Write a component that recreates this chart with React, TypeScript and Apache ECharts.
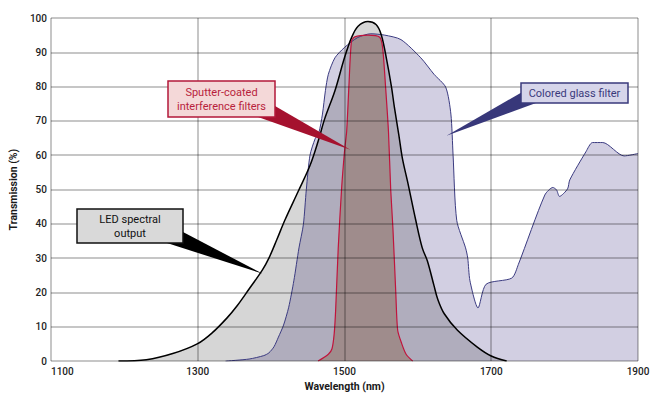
import React, { useEffect, useRef } from "react";
import * as echarts from "echarts";

// ---- Data ----
const xTickMin = 1100;
const xTickMax = 1900;
const xTickStep = 200;
const yTickMin = 0;
const yTickMax = 100;
const yTickStep = 10;

const glassWavelengths = [
  1338, 1370, 1390, 1397, 1404, 1410, 1417, 1424, 1431, 1438, 1444, 1448, 1453, 1460, 1465,
  1470, 1474, 1478, 1487, 1500, 1518, 1536, 1555, 1577, 1604, 1622, 1638, 1645, 1648, 1653,
  1665, 1668, 1671, 1682, 1693, 1728, 1737, 1773, 1784, 1789, 1793, 1804, 1807, 1829, 1838,
  1852, 1881, 1900,
];
const glassValues = [
  0, 0.6, 1.6, 2.4, 4.2, 7, 10.5, 15.7, 23.4, 33, 39.8, 50, 60, 64.8, 66.5,
  72, 78.8, 83.6, 88.4, 91.4, 94.3, 95.4, 95, 93.7, 88.4, 83.6, 79.8, 72, 60, 41,
  33, 30, 23.4, 15.5, 22.4, 24.2, 28.2, 48.4, 50.6, 49.9, 48, 50.2, 52.8, 61, 63.7,
  63.7, 59.8, 60.5,
];

const ledWavelengths = [
  1192, 1230, 1266, 1300, 1320, 1340, 1354, 1370, 1388, 1397, 1408, 1419, 1437, 1453, 1464,
  1473, 1487, 1500, 1509.5, 1518.5, 1532, 1543, 1550, 1557, 1564, 1568, 1574, 1579, 1586, 1597,
  1606, 1613, 1622, 1627, 1636, 1654, 1681, 1700, 1721,
];
const ledValues = [
  0, 0.4, 2.2, 5.1, 8.3, 12.6, 16.2, 21, 26.5, 30, 35.5, 41.2, 49.5, 57, 64,
  70.6, 78.8, 88.4, 94.2, 97.6, 99, 98.1, 95.2, 88.4, 80, 74, 66, 59, 52.3, 41.2,
  33, 29.2, 22, 18.1, 13.8, 9, 4.1, 1.5, 0,
];

const sputterWavelengths = [
  1464, 1478, 1483, 1486, 1488, 1491.5, 1496, 1500, 1503, 1506, 1509.5, 1514, 1532, 1548, 1552,
  1556, 1560, 1563, 1566, 1570, 1572.5, 1578, 1584, 1593,
];
const sputterValues = [
  0, 2, 3.6, 8, 15, 33, 50, 61, 67, 80, 93.2, 94.5, 95, 94.4, 91.3,
  80, 66.7, 50, 38.8, 19.5, 9, 5.1, 2, 0,
];

// Callout labels and the data point each one points at
const ledLabel = "LED spectral\noutput";
const ledTip = [1388, 25.5];
const sputterLabel = "Sputter-coated\ninterference filters";
const sputterTip = [1508, 61.6];
const glassLabel = "Colored glass filter";
const glassTip = [1639, 65.7];

const zip = (xs: number[], ys: number[]) => xs.map((x, i) => [x, ys[i]]);

const FONT = "Roboto, 'Noto Sans', sans-serif";

export default function App() {
  const ref = useRef<HTMLDivElement>(null);

  useEffect(() => {
    if (!ref.current) return;
    const chart = echarts.init(ref.current, undefined, { renderer: "svg" });

    const gridLine = { color: "rgba(0,0,0,0.3)", width: 1.5 };

    chart.setOption({
      animation: false,
      backgroundColor: "#ffffff",
      grid: { left: 47, right: 18, top: 18, bottom: 33 },
      xAxis: {
        type: "value",
        min: xTickMin,
        max: xTickMax,
        interval: xTickStep,
        z: 10,
        axisLine: { show: false },
        axisTick: { show: false },
        splitLine: { show: true, lineStyle: gridLine },
        axisLabel: {
          color: "#222222",
          fontSize: 10,
          fontWeight: 500,
          fontFamily: FONT,
          margin: 5,
          alignMinLabel: "left",
          formatter: (v: number) => String(v),
        },
        name: "Wavelength (nm)",
        nameLocation: "middle",
        nameGap: 15,
        nameTextStyle: { color: "#1a1a1a", fontSize: 10.5, fontWeight: "bold", fontFamily: FONT },
      },
      yAxis: {
        type: "value",
        min: yTickMin,
        max: yTickMax,
        interval: yTickStep,
        z: 10,
        axisLine: { show: false },
        axisTick: { show: false },
        splitLine: { show: true, lineStyle: gridLine },
        axisLabel: {
          color: "#222222",
          fontSize: 10,
          fontWeight: 500,
          fontFamily: FONT,
          margin: 4,
          formatter: (v: number) => String(v),
        },
        name: "Transmission (%)",
        nameLocation: "middle",
        nameGap: 26,
        nameTextStyle: { color: "#1a1a1a", fontSize: 10.5, fontWeight: "bold", fontFamily: FONT },
      },
      series: [
        {
          name: "Colored glass filter",
          type: "line",
          data: zip(glassWavelengths, glassValues),
          symbol: "none",
          smooth: 0.25,
          lineStyle: { color: "#3b3b80", width: 1 },
          areaStyle: { color: "#d2cfe2", opacity: 1 },
        },
        {
          name: "LED spectral output",
          type: "line",
          data: zip(ledWavelengths, ledValues),
          symbol: "none",
          smooth: 0.35,
          lineStyle: { color: "#000000", width: 1.5 },
          areaStyle: { color: "rgba(0,0,0,0.16)", opacity: 1 },
        },
        {
          name: "Sputter-coated interference filters",
          type: "line",
          data: zip(sputterWavelengths, sputterValues),
          symbol: "none",
          smooth: 0.25,
          lineStyle: { color: "#c0143c", width: 1.2 },
          areaStyle: { color: "#9f8c8c", opacity: 1 },
        },
      ],
    });

    const px = (p: number[]) => chart.convertToPixel({ gridIndex: 0 }, p) as number[];

    const callout = (
      box: { x: number; y: number; w: number; h: number },
      base: number[][],
      tip: number[],
      text: string,
      fill: string,
      stroke: string,
      wedge: string,
      textColor: string
    ) => [
      {
        type: "polygon",
        z: 100,
        shape: { points: [base[0], px(tip), base[1]] },
        style: { fill: wedge },
      },
      {
        type: "rect",
        z: 101,
        shape: { x: box.x, y: box.y, width: box.w, height: box.h },
        style: { fill, stroke, lineWidth: 1.5 },
      },
      {
        type: "text",
        z: 102,
        x: box.x + box.w / 2,
        y: box.y + box.h / 2,
        style: {
          text,
          fill: textColor,
          fontSize: 11,
          fontFamily: FONT,
          align: "center",
          verticalAlign: "middle",
          lineHeight: 14,
        },
      },
    ];

    chart.setOption({
      graphic: [
        ...callout(
          { x: 77, y: 209, w: 106, h: 34 },
          [
            [183, 232],
            [167, 243],
          ],
          ledTip,
          ledLabel,
          "#d9d9d9",
          "#111111",
          "#000000",
          "#111111"
        ),
        ...callout(
          { x: 168, y: 81, w: 107, h: 36 },
          [
            [275, 106],
            [258, 117],
          ],
          sputterTip,
          sputterLabel,
          "#f4d8d8",
          "#b3193a",
          "#a5112e",
          "#b81f3c"
        ),
        ...callout(
          { x: 521, y: 83, w: 107, h: 20 },
          [
            [521, 92.7],
            [536, 103],
          ],
          glassTip,
          glassLabel,
          "#d6d5ea",
          "#3a3a7c",
          "#38387a",
          "#3a3a7c"
        ),
      ],
    });

    return () => chart.dispose();
  }, []);

  return (
    <div
      ref={ref}
      style={{ position: "absolute", left: 0, top: 0, width: 656, height: 397 }}
    />
  );
}
